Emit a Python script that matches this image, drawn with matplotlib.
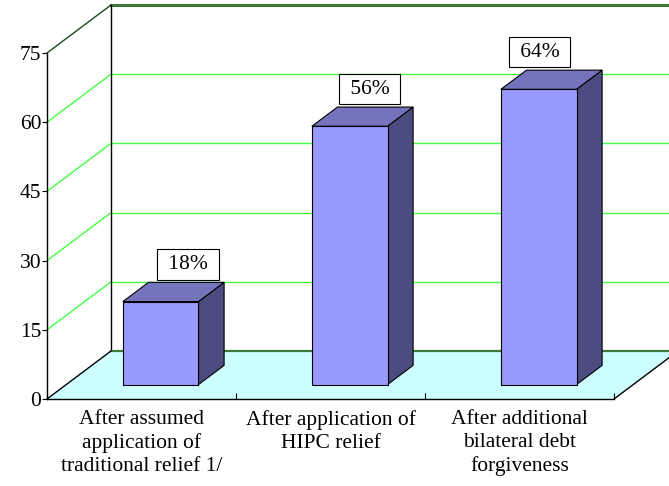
import matplotlib
matplotlib.use("Agg")
import matplotlib.pyplot as plt
from matplotlib.patches import Polygon
from matplotlib.lines import Line2D
import numpy as np

plt.rcParams['font.family'] = ['Liberation Serif', 'DejaVu Serif']

categories = ["After assumed\napplication of\ntraditional relief 1/",
              "After application of\nHIPC relief",
              "After additional\nbilateral debt\nforgiveness"]
values = [18, 56, 64]
value_labels = ["18%", "56%", "64%"]
yticks = [0, 15, 30, 45, 60, 75]

# styling
FS = 15.5
DX, DY = 64, 48            # depth offset (pixels) of the back wall
BAR_W = (0.3, 0.7)         # bar extent within category
BAR_D = (0.3, 0.7)         # bar extent in depth
label_shift = [0.01, -0.03, -0.13]
FRONT, TOP, SIDE = '#9999FF', '#7474BC', '#4C4C80'
GRID = '#44FF44'
WALLEDGE = '#3C7A3C'

W, H = 669, 486
fig = plt.figure(figsize=(W / 100, H / 100), dpi=100)
ax = fig.add_axes([47 / W, (H - 399) / H, (614 - 47) / W, (399 - 53) / H])
ax.set_xlim(0, 3)
ax.set_ylim(0, 75)
ax.patch.set_visible(False)
for s in ['top', 'right']:
    ax.spines[s].set_visible(False)
ax.spines['left'].set_linewidth(1)
ax.spines['bottom'].set_linewidth(1)

ax.set_yticks(yticks)
ax.set_yticklabels([str(t) for t in yticks], fontsize=FS)
ax.tick_params(axis='y', direction='out', length=3.6, width=0.8, pad=0.5)
ax.set_xticks([0, 1, 2, 3])
ax.set_xticklabels([])
ax.tick_params(axis='x', which='major', direction='in', length=4.5, width=0.8)
ax.set_xticks([0.5, 1.5, 2.5], minor=True)
ax.set_xticklabels(categories, minor=True, fontsize=FS, linespacing=1.27, va='top')
ax.tick_params(axis='x', which='minor', length=0, pad=8)


def P(c, v, d):
    x, y = ax.transData.transform((c, v))
    return (x + DX * d, y + DY * d)


def poly(pts, fc, ec='black', lw=0.8, z=3):
    ax.add_patch(Polygon([P(*p) for p in pts], closed=True, facecolor=fc,
                         edgecolor=ec, linewidth=lw, transform=None,
                         clip_on=False, zorder=z))


def line(p1, p2, color, lw=1.0, z=1):
    a, b = P(*p1), P(*p2)
    ax.add_line(Line2D([a[0], b[0]], [a[1], b[1]], color=color, linewidth=lw,
                       transform=None, clip_on=False, zorder=z))


# gridlines on back wall and left wall
for t in yticks[1:-1]:
    line((0, t, 1), (3, t, 1), GRID, 1.0)
    line((0, t, 0), (0, t, 1), GRID, 1.0)
line((0, 75, 1), (3, 75, 1), WALLEDGE, 2.2)
line((0, 75, 0), (0, 75, 1), '#1E4A1E', 1.0)
line((0, 0, 1), (0, 75, 1), 'black', 1.0)

# floor
poly([(0, 0, 0), (3, 0, 0), (3, 0, 1), (0, 0, 1)], '#CCFFFF', ec='none', z=1.5)
line((0, 0, 1), (3, 0, 1), WALLEDGE, 1.6, z=1.6)
line((0, 0, 0), (0, 0, 1), 'black', 1.0, z=1.6)
line((3, 0, 0), (3, 0, 1), 'black', 1.0, z=1.6)

# bars
for i, v in enumerate(values):
    c0, c1 = i + BAR_W[0], i + BAR_W[1]
    d0, d1 = BAR_D
    poly([(c1, 0, d0), (c1, 0, d1), (c1, v, d1), (c1, v, d0)], SIDE)
    poly([(c0, v, d0), (c1, v, d0), (c1, v, d1), (c0, v, d1)], TOP)
    poly([(c0, 0, d0), (c1, 0, d0), (c1, v, d0), (c0, v, d0)], FRONT)
    # label above the top back edge
    lx, ly = P(i + 0.5 + label_shift[i], v, d1)
    ax.annotate(" " + value_labels[i] + " ", xy=(lx, ly), xycoords='figure pixels',
                xytext=(0, 6), textcoords='offset points', ha='center', va='bottom',
                fontsize=FS, zorder=6,
                bbox=dict(boxstyle='square,pad=0.26', fc='white', ec='black', lw=0.8))

fig.savefig("out.png", dpi=100)
